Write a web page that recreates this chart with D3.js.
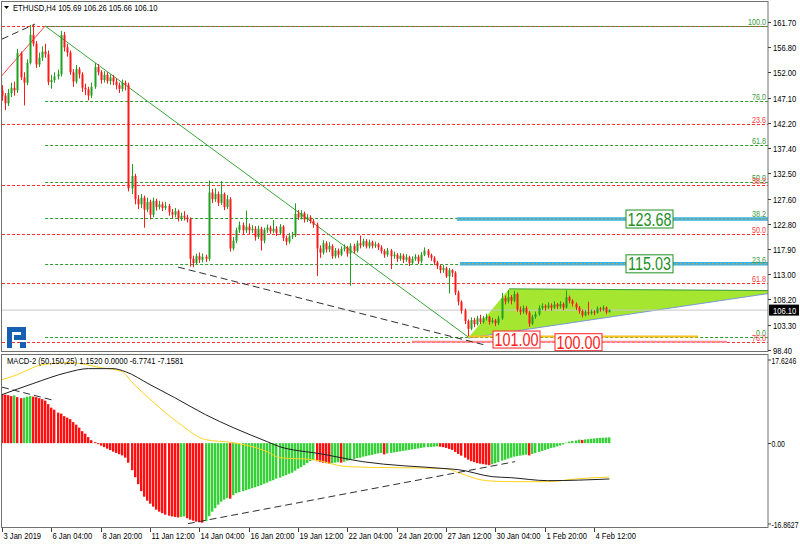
<!DOCTYPE html>
<html><head><meta charset="utf-8">
<script src="https://cdn.jsdelivr.net/npm/d3@7"></script>
<style>body{margin:0;background:#fff;}svg{display:block;font-family:"Liberation Sans",Arial,sans-serif;}</style>
</head><body><svg id="c" width="800" height="545"></svg>
<script>
// ---------- DATA ----------
const firstOpen = 148.5;
const closes = [
147.5,146,148,149,148.5,155.7,151,150,153.8,159.2,
157.5,153.5,154.8,156,155.5,150.1,150.5,151.2,151.6,159.2,
156.8,155.8,152,150.2,152.6,151.6,149,148.7,147.5,149.2,
153,152,150.5,151.5,150.3,151,150.2,149.5,148.8,150,
149.6,129.6,132,127.5,126.5,127.8,125.5,127,124.5,127.2,
126,126.5,125.8,126.2,125,124.5,125.2,123.8,124.3,124,
123.7,116,115.2,116.5,115.8,116.4,116,128.8,127.5,128.5,
126.8,128.5,126,127.5,118,119.5,121.5,122.5,121.5,122.2,
121.5,121.8,120.2,121.8,119.5,121.6,122,121.3,121.8,121,
122.2,120,119.3,120.3,120.5,124.7,124,124.8,123.6,124,
123.3,122.6,118,117.2,119,117.8,118.5,116.5,117.6,116.8,
117.9,118.2,117,118.5,117.5,119,118.6,119.4,118.4,119.2,
118.5,118.8,118.2,117.5,116.8,117.6,116.5,116.8,116,116.6,
115.8,116.3,115.2,116,116.4,115.5,116.8,117.6,116.7,116.2,
115.3,114.6,113.8,114.2,112.6,113.8,113.3,109.5,107.7,106,
104,102.5,104.2,103.4,104.5,103.8,104.6,104.8,103.8,104.1,
103.6,104.5,108.4,107.8,108.6,107.9,109.2,106.2,105.8,106.5,
105.6,103.5,104.8,105.3,106.5,106.9,106.6,107,106.6,107.2,
106.8,107.3,106.6,108.6,107.9,107.3,106.6,105.9,105.1,105.7,
105.5,105.8,105.6,106.4,106.2,106.6,105.69,106.1];
const highs = [
149.5,148,148.8,150,150.2,156.5,156,152,154.5,161.1,
161.2,158,155.8,157,157.5,156.2,151.5,152,152.5,160,
159.8,157.5,156.2,152.6,153.4,153,152,149.8,149.2,150,
153.8,153.6,152.4,152.2,152,151.6,151.5,150.8,150,150.6,
150.4,150,134.3,132.4,128.3,128.5,128.2,127.8,127.4,127.8,
127.6,127.2,127,127,126.6,125.6,125.8,125.5,124.9,125.2,
124.5,124,116.6,117,117.2,117,116.8,131.1,129.5,129.6,
129,131,128.8,128.3,127.9,120.2,122,123.2,123,125.3,
122.8,122.5,122.3,122.4,122.2,122,122.6,122.4,123.5,122.3,
122.7,122.5,120.5,121,121.2,126.7,125.4,125.4,125.1,124.6,
124.4,123.7,123,118.6,119.6,119.4,119.2,118.8,118.1,118,
118.4,118.8,118.5,119,118.9,119.5,120.5,119.9,119.8,119.7,
119.5,119.3,119.1,118.6,117.9,118.1,117.9,117.4,117.1,117.1,
117,116.9,116.6,116.5,116.9,116.8,117.3,118.2,117.9,117,
116.5,115.6,114.9,114.8,114.5,114.2,114,113.6,109.9,108,
106.4,104.3,104.7,104.6,105,105.2,105,105.4,105,104.6,
104.4,105,109.4,108.9,110,109,109.8,109.5,106.8,107,
106.9,105.9,105.2,105.8,107,107.4,107.2,107.6,107.4,107.8,
107.5,107.8,107.6,109.9,108.9,108.2,107.6,106.9,106.2,106.1,
107.7,106.2,106.1,106.8,106.7,107,106.8,106.26];
const lows = [
146.5,144.7,145.5,147.2,147.5,148,150.5,145.6,149.5,153.5,
157,152.8,153,154.2,154.8,149.5,148.8,150,150.6,151.2,
156,155,151.5,149.2,149.8,150.8,148.2,147.6,146.6,147,
148.8,151.4,149.8,150,149.8,149.6,149.5,148.7,148,148.3,
148.5,129,128.5,126.5,125.6,125.8,122,125,123.6,124,
125.3,125.5,125.2,125.4,124.3,123.8,124,123.2,123.3,123.4,
123,114.5,114.4,114.8,115.2,115.3,115.4,115.6,126.8,127,
126.2,126.4,125.4,125.6,117.4,117.6,119,121,120.8,121,
120.8,121,119.5,119.8,117.6,119,121,120.8,120.9,120.4,
120.6,119.4,118.6,118.9,119.8,120.2,123.5,123.6,123,123.1,
122.8,122,112.7,116.2,116.8,117.2,117.3,116,116.1,116.2,
116.5,117.4,116.4,110.8,117,117.2,118,118.3,118,118,
118,118.1,117.7,117,116.2,116.4,114,116,115.4,115.6,
115.2,115.4,114.6,114.9,115.6,115,115.1,116.5,116.2,115.6,
114.8,114,113.2,113.3,112.3,109.3,112.5,109,107,105.4,
103.4,101.1,102.2,102.8,103.1,103.4,103.5,104.1,103.3,103.5,
103,103.2,104.2,107.2,107.4,107.2,107.6,105.8,105.2,105.4,
105.2,102.9,103.2,104.4,105,106.1,106,106.3,106,106.3,
106.3,106.4,106.1,106.4,107.4,106.8,106.1,105.4,104.7,104.9,
105.1,105.2,105.1,105.4,105.8,105.9,105.3,105.66];

const macdHist = [
9.8,9.7,9.6,9.4,9.55,9.2,9.0,9.1,9.3,9.4,
9.3,9.2,9.0,8.8,8.5,7.8,7.1,6.7,6.1,5.9,
5.4,5.1,4.8,4.2,3.7,3.1,2.4,1.9,1.2,0.6,
0.2,-0.2,-0.5,-0.8,-1.1,-1.4,-1.7,-1.95,-2.2,-2.45,
-2.9,-3.9,-5.4,-6.8,-8.2,-9.6,-10.7,-11.5,-12.1,-12.7,
-13.3,-13.7,-14.0,-14.3,-14.5,-14.65,-14.75,-14.85,-14.75,-14.65,
-15.0,-15.3,-15.5,-15.7,-15.8,-15.9,-15.6,-14.6,-13.7,-13.0,
-12.3,-11.7,-11.3,-11.0,-11.1,-10.4,-10.0,-9.8,-9.6,-9.4,
-9.2,-9.0,-8.8,-8.6,-8.4,-8.1,-7.9,-7.6,-7.4,-7.1,
-6.9,-6.6,-6.4,-6.1,-5.9,-5.5,-5.1,-4.8,-4.4,-4.0,
-3.6,-3.4,-3.6,-3.8,-3.9,-4.0,-4.1,-4.0,-3.9,-3.8,
-3.9,-3.7,-3.5,-3.4,-3.2,-3.0,-2.9,-2.7,-2.6,-2.45,
-2.35,-2.15,-2.05,-1.95,-2.25,-2.05,-1.95,-1.85,-1.75,-1.65,
-1.55,-1.45,-1.35,-1.25,-1.15,-1.05,-0.95,-0.85,-0.8,-0.75,
-0.7,-0.65,-0.7,-0.8,-0.95,-1.15,-1.35,-1.75,-2.15,-2.5,
-2.9,-3.3,-3.6,-3.8,-4.0,-4.1,-4.2,-4.3,-4.4,-4.2,
-4.0,-3.8,-3.5,-3.3,-3.1,-2.9,-2.7,-2.6,-2.5,-2.4,
-2.3,-2.45,-2.15,-1.95,-1.75,-1.55,-1.35,-1.15,-0.95,-0.85,
-0.65,-0.45,-0.25,0.1,0.3,0.45,0.55,0.7,0.65,0.75,
0.8,0.9,0.95,1.0,1.05,1.1,1.12,1.152];

const macdBlackIdx = [0,10,21,28,36,40,48,56,66,75,86,90,96,101,117,144,148,159,165,177,197];
const macdBlackVal = [9.7,11.9,14.1,14.9,14.9,14.3,11.7,9.1,5.7,3.1,0.3,-0.7,-1.5,-1.9,-3.7,-5.1,-5.3,-6.7,-6.9,-7.5,-7.16];
const macdYellowIdx = [0,5,10,13,22,32,39,42,50,58,66,75,86,90,101,112,144,148,157,165,177,187,197];
const macdYellowVal = [12.7,13.7,15.1,15.7,16.1,15.1,14.3,12.3,7.7,3.7,0.7,0.1,-1.7,-2.9,-3.3,-4.7,-5.1,-5.9,-7.5,-7.7,-7.7,-7.1,-6.77];

const timeLabels = ["3 Jan 2019","6 Jan 04:00","8 Jan 20:00","11 Jan 12:00","14 Jan 04:00","16 Jan 20:00","19 Jan 12:00","22 Jan 04:00","24 Jan 20:00","27 Jan 12:00","30 Jan 04:00","1 Feb 20:00","4 Feb 12:00"];
const timeLabelIdx = [0,16,32,48,64,80,96,112,128,144,160,176,192];
const priceTicks = [161.70,156.80,152.00,147.10,142.20,137.40,132.50,127.60,122.80,117.90,113.00,108.20,103.30,98.40];
const macdTicks = [17.6246,0,-16.8627];
const lastPrice = 106.10;

const fibHigh = 160.95, greenFibLow = 100.85, redFibLow = 80.6;
const greenFibLevels = [100,76,61.8,50,38.2,23.6,0];
const redFibLevels = [23.6,38.2,50,61.8,76];
const greenFibStart = 14;

const targetLevels = [123.68,115.03];      // blue lines
const supportLevels = [101.00,100.00];     // red boxes

// trend lines: [idx1, price1, idx2, price2]
const trendGreen = [14,160.93,151.2,100.9];
const trendRed = [-0.7,150.9,14,160.93];
const trendDashTop = [0,158.4,10.7,161.3];
const trendDashLow = [57.1,114.4,156.7,99.35];
const triangle = [[151.2,100.7],[164.5,110.2],[254.8,109.85]];
const macdDash1 = [0,11.2,16.5,8.6];
const macdDash2 = [60.3,-16.1,166.4,-3.7];

// ---------- SCALES ----------
const svg = d3.select("#c");
const L = 2, R = 768;
const x = d3.scaleLinear().domain([0,192]).range([2,594]);
const y = d3.scaleLinear().domain([98.4,161.7]).range([350,22]);
const ym = d3.scaleLinear().domain([-16.8627,17.6246]).range([527.5,355]);
const SX = 0.8;
function txt(g,xx,yy,s,o){o=o||{};
  const t=g.append("text").attr("transform",`translate(${xx},${yy}) scale(${o.sx||SX},1)`)
   .attr("font-size",o.size||9.5).attr("fill",o.fill||"#000").text(s);
  if(o.anchor) t.attr("text-anchor",o.anchor);
  if(o.weight) t.attr("font-weight",o.weight);
  return t;}

const defs = svg.append("defs");
defs.append("clipPath").attr("id","cpTop").append("rect").attr("x",L).attr("y",2).attr("width",R-L).attr("height",349);
defs.append("clipPath").attr("id","cpM").append("rect").attr("x",L).attr("y",355).attr("width",R-L).attr("height",172);

const gTop = svg.append("g").attr("clip-path","url(#cpTop)");
const gM = svg.append("g").attr("clip-path","url(#cpM)");

// ---------- TOP PANEL ----------
gTop.append("path").attr("d", d3.line().x(d=>x(d[0])).y(d=>y(d[1]))(triangle)+"Z")
  .attr("fill","#a4e630").attr("stroke","none");
gTop.append("line").attr("x1",x(triangle[1][0])).attr("y1",y(triangle[1][1])).attr("x2",x(triangle[2][0])).attr("y2",y(triangle[2][1])).attr("stroke","#3d9a3d").attr("stroke-width",1);
gTop.append("line").attr("x1",x(triangle[0][0])).attr("y1",y(triangle[0][1])).attr("x2",x(triangle[2][0])).attr("y2",y(triangle[2][1])).attr("stroke","#7a9ad8").attr("stroke-width",1);

gTop.append("line").attr("x1",L).attr("x2",R).attr("y1",y(lastPrice)).attr("y2",y(lastPrice)).attr("stroke","#c8c8c8");

redFibLevels.concat([0]).forEach(l=>{
  const p = fibHigh - l/100*(fibHigh-redFibLow);
  gTop.append("line").attr("x1",L).attr("x2",R).attr("y1",Math.round(y(p))+0.5).attr("y2",Math.round(y(p))+0.5)
   .attr("stroke","#ff3030").attr("stroke-dasharray","3,2");
});
greenFibLevels.forEach(l=>{
  const p = greenFibLow + l/100*(fibHigh-greenFibLow);
  gTop.append("line").attr("x1",x(greenFibStart)).attr("x2",R).attr("y1",Math.round(y(p))+0.5).attr("y2",Math.round(y(p))+0.5)
   .attr("stroke","#2e9a2e").attr("stroke-dasharray","3,2");
});

gTop.append("line").attr("x1",x(151)).attr("x2",698).attr("y1",y(supportLevels[0])).attr("y2",y(supportLevels[0])).attr("stroke","#ffc020").attr("stroke-width",2);
gTop.append("line").attr("x1",x(133)).attr("x2",727).attr("y1",y(supportLevels[1])).attr("y2",y(supportLevels[1])).attr("stroke","#ff80c0").attr("stroke-width",2);
gTop.append("line").attr("x1",x(133)).attr("x2",727).attr("y1",y(supportLevels[1])).attr("y2",y(supportLevels[1])).attr("stroke","#ffb000").attr("stroke-width",0.8).attr("stroke-dasharray","3,2");

targetLevels.forEach((p,k)=>{
  const x1 = k===0 ? x(147.5) : x(148.5);
  gTop.append("line").attr("x1",x1).attr("x2",R).attr("y1",y(p)).attr("y2",y(p)).attr("stroke","#35b2e6").attr("stroke-width",3.5);
  gTop.append("line").attr("x1",x1).attr("x2",R).attr("y1",y(p)).attr("y2",y(p)).attr("stroke","#e8a830").attr("stroke-width",0.9).attr("stroke-dasharray","2,2");
});

function seg(g,t,sc,color,dash,w){
  const l=g.append("line").attr("x1",x(t[0])).attr("y1",sc(t[1])).attr("x2",x(t[2])).attr("y2",sc(t[3]))
   .attr("stroke",color).attr("stroke-width",w||1);
  if(dash) l.attr("stroke-dasharray",dash); return l;}
seg(gTop,trendGreen,y,"#3aa53a");
seg(gTop,trendRed,y,"#ff4040");
seg(gTop,trendDashTop,y,"#303030","7,4");
seg(gTop,trendDashLow,y,"#303030","7,4");

const candles = closes.map((c,i)=>({i, o: i===0?firstOpen:closes[i-1], c, h: highs[i], l: lows[i]}));
const cg = gTop.append("g");
cg.selectAll("line.w").data(candles).join("line")
  .attr("x1",d=>Math.round(x(d.i))+0.5).attr("x2",d=>Math.round(x(d.i))+0.5)
  .attr("y1",d=>y(d.h)).attr("y2",d=>y(d.l))
  .attr("stroke",d=>d.c>=d.o?"#20a020":"#ff1a1a").attr("stroke-width",1);
cg.selectAll("rect").data(candles).join("rect")
  .attr("x",d=>Math.round(x(d.i))-0.5).attr("width",2)
  .attr("y",d=>y(Math.max(d.o,d.c))).attr("height",d=>Math.max(1,Math.abs(y(d.o)-y(d.c))))
  .attr("fill",d=>d.c>=d.o?"#20a020":"#ff1a1a");

greenFibLevels.forEach(l=>{
  const p = greenFibLow + l/100*(fibHigh-greenFibLow);
  txt(svg,766,Math.round(y(p))-1,l.toFixed(1),{size:9,fill:"#3a9a3a",anchor:"end"});
});
redFibLevels.forEach(l=>{
  const p = fibHigh - l/100*(fibHigh-redFibLow);
  txt(svg,766,Math.round(y(p))-1,l.toFixed(1),{size:9,fill:"#ff4040",anchor:"end"});
});

function box(cx,cy,s,color,w,h){
  svg.append("rect").attr("x",cx-w/2).attr("y",cy-h/2).attr("width",w).attr("height",h).attr("fill","#fff").attr("stroke",color);
  txt(svg,cx,cy+6.5,s,{size:18,fill:color,anchor:"middle"});
}
box(649.5,y(targetLevels[0]),targetLevels[0].toFixed(2),"#1f8f1f",47,18);
box(649.5,y(targetLevels[1]),targetLevels[1].toFixed(2),"#1f8f1f",47,18);
box(516.5,y(supportLevels[0])+3,supportLevels[0].toFixed(2),"#ff2020",47,17);
box(578.5,y(supportLevels[1])+0.5,supportLevels[1].toFixed(2),"#ff2020",47,17);

const lg = svg.append("g").attr("fill","#1560b0");
lg.append("rect").attr("x",7).attr("y",327).attr("width",5).attr("height",21);
lg.append("rect").attr("x",12).attr("y",327).attr("width",14).attr("height",5);
lg.append("rect").attr("x",21).attr("y",327).attr("width",5).attr("height",13);
lg.append("rect").attr("x",14).attr("y",335).attr("width",10).attr("height",5);
lg.append("rect").attr("x",20).attr("y",342).attr("width",6).attr("height",6);

// ---------- MACD PANEL ----------
gM.selectAll("rect").data(macdHist).join("rect")
  .attr("x",(d,i)=>Math.round(x(i))-1).attr("width",2.4)
  .attr("y",d=>Math.min(ym(d),ym(0))).attr("height",d=>Math.abs(ym(d)-ym(0)))
  .attr("fill",(d,i)=> (i>0 && d>=macdHist[i-1]) ? "#38d038" : "#ff1010");
const lineGen = d3.line().x(d=>x(d[0])).y(d=>ym(d[1])).curve(d3.curveMonotoneX);
gM.append("path").attr("d",lineGen(macdYellowIdx.map((v,k)=>[v,macdYellowVal[k]]))).attr("fill","none").attr("stroke","#ffd21e").attr("stroke-width",1);
gM.append("path").attr("d",lineGen(macdBlackIdx.map((v,k)=>[v,macdBlackVal[k]]))).attr("fill","none").attr("stroke","#202020").attr("stroke-width",1);
seg(gM,macdDash1,ym,"#303030","7,4");
seg(gM,macdDash2,ym,"#303030","7,4");

// ---------- FRAMES & AXES ----------
svg.append("rect").attr("x",1.5).attr("y",1.5).attr("width",R-1.5).attr("height",350).attr("fill","none").attr("stroke","#707070");
svg.append("rect").attr("x",1.5).attr("y",354.5).attr("width",R-1.5).attr("height",173).attr("fill","none").attr("stroke","#707070");

const ax = svg.append("g");
priceTicks.forEach(p=>{
  const yy = Math.round(y(p))+0.5;
  ax.append("line").attr("x1",R).attr("x2",R+3).attr("y1",yy).attr("y2",yy).attr("stroke","#404040");
  txt(ax,773,yy+3.5,p.toFixed(2),{size:9.5});
});
macdTicks.forEach((v,k)=>{
  const yy = k===0?360:(k===2?524:Math.round(ym(v))+0.5);
  ax.append("line").attr("x1",R).attr("x2",R+3).attr("y1",yy).attr("y2",yy).attr("stroke","#404040");
  txt(ax,771.5,yy+3.5,k===1?v.toFixed(2):v.toFixed(4),{size:9.5,sx:0.72});
});
timeLabelIdx.forEach((idx,k)=>{
  const xx = Math.round(x(idx))+0.5;
  ax.append("line").attr("x1",xx).attr("x2",xx).attr("y1",528).attr("y2",532).attr("stroke","#404040");
  txt(ax,xx+1,539,timeLabels[k],{size:9.5});
});
svg.append("rect").attr("x",769).attr("y",y(lastPrice)-5.5).attr("width",30).attr("height",11).attr("fill","#000");
txt(svg,773,y(lastPrice)+3.5,lastPrice.toFixed(2),{size:9.5,fill:"#fff"});

svg.append("path").attr("d","M4,6 L9,6 L6.5,9 Z").attr("fill","#000");
txt(svg,13,11,"ETHUSD,H4  105.69 106.26 105.66 106.10",{size:9.5});
txt(svg,7,364,"MACD-2 (50,150,25) 1.1520 0.0000 -6.7741 -7.1581",{size:9.5});
</script></body></html>
